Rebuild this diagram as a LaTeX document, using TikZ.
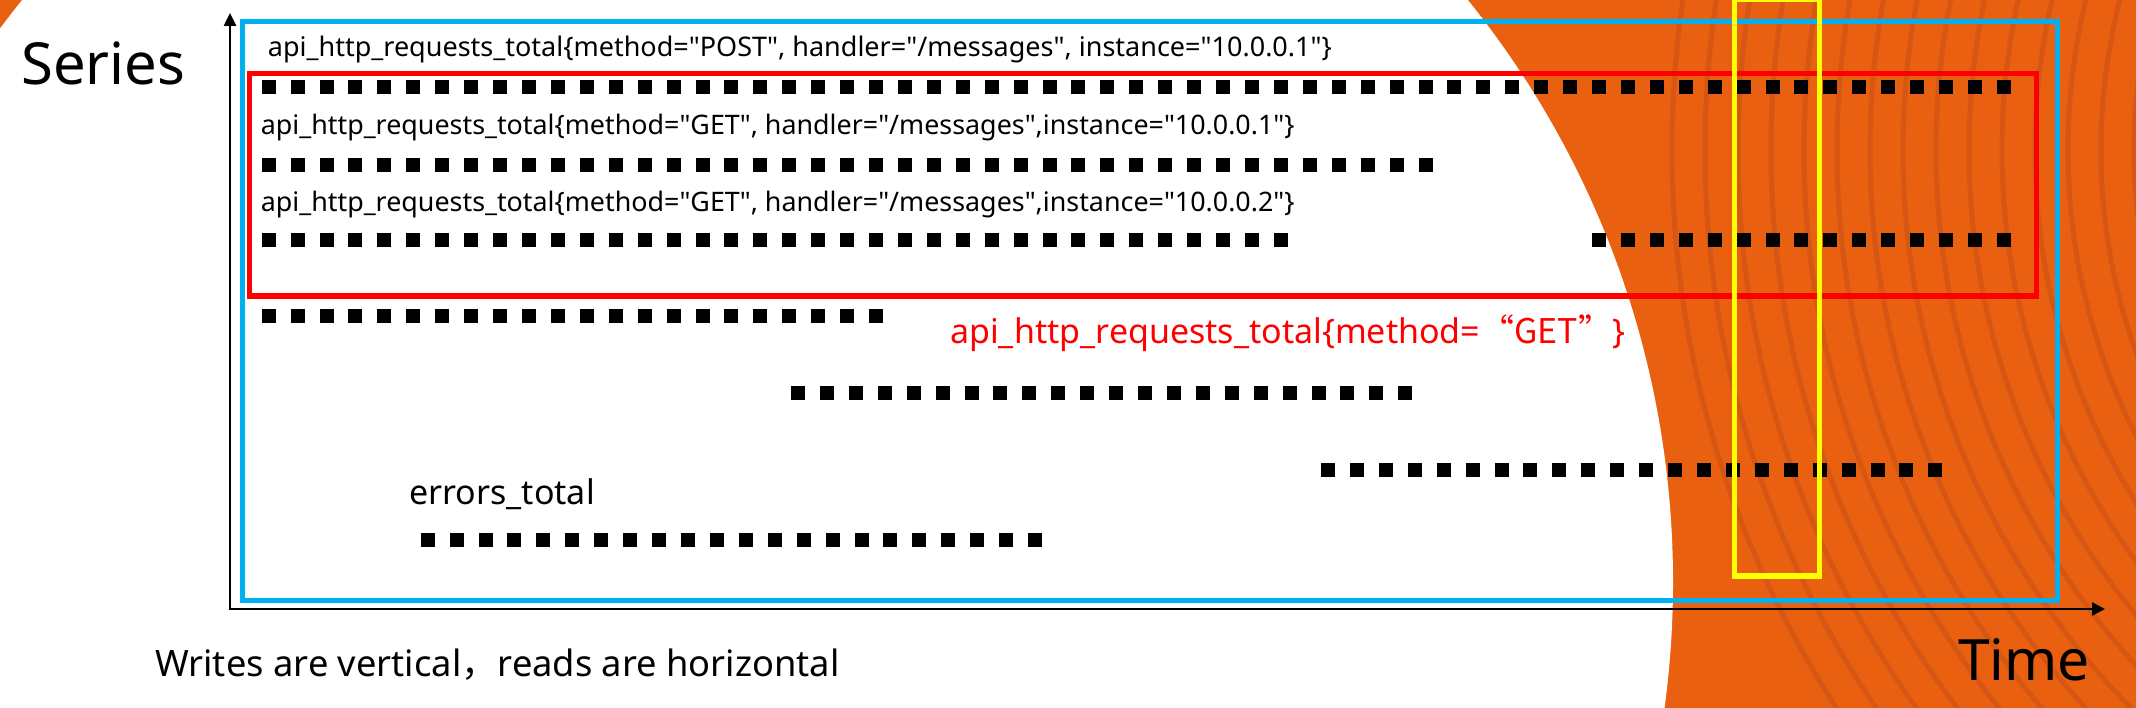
\documentclass[tikz,border=0pt]{standalone}
\usepackage{fontspec}
\setmainfont{Noto Sans}
\newfontfamily\plainsans{Noto Sans}
\newfontfamily\cjk{Noto Sans CJK SC}
\usetikzlibrary{arrows.meta}
\definecolor{bgorange}{RGB}{233,96,16}
\definecolor{stripeor}{RGB}{214,86,20}
\definecolor{frameblue}{RGB}{0,176,240}
\definecolor{framered}{RGB}{255,0,0}
\definecolor{frameyellow}{RGB}{255,255,0}
\newcommand{\setfs}[1]{\plainsans\fontsize{#1}{#1}\selectfont}
\newcommand{\dotrow}[3]{\foreach \i in {1,...,#3} \fill[black] ({#2+(\i-1)*28.92},#1) rectangle ++(14,14);}
\begin{document}
\begin{tikzpicture}[x=1pt,y=-1pt,
  lbl/.style={anchor=base west, inner sep=0pt},
  stripe/.style={draw=stripeor, line width=5pt},
  frame/.style={line width=5.5pt},
  axisline/.style={line width=2.5pt, black, {Triangle[length=13pt,width=12pt]}-{Triangle[length=13pt,width=13pt]}}]
\useasboundingbox (0,0) rectangle (2136,708);
\clip (0,0) rectangle (2136,708);
% background
\fill[bgorange] (0,0) rectangle (2136,708);
\foreach \r in {500,533,...,1050} \draw[stripe] (2700,150) circle (\r);
\fill[white] (745,582) circle (928);
% axes
\coordinate (ytip) at (230,13);
\coordinate (xtip) at (2105,609);
\draw[axisline] (ytip) |- (xtip);
% frames
\draw[frame, frameblue, line width=5pt] (242,21.5) rectangle (2057,600);
\draw[frame, framered] (249.5,73.3) rectangle (2036.7,296);
% dot rows
\dotrow{80.5}{261.7}{61}
\dotrow{158.3}{261.7}{41}
\dotrow{233.3}{261.7}{36}
\dotrow{233.3}{1592.0}{15}
\dotrow{309.5}{261.7}{22}
\dotrow{386}{791}{22}
\dotrow{462.7}{1321}{22}
\dotrow{533.3}{420.7}{22}
% yellow window
\draw[frame, frameyellow] (1734.5,-1) rectangle (1819.5,576);
% labels
\node[lbl, font=\setfs{27}] (post) at (267.7,56.7) {api\_http\_requests\_total\{method="POST", handler="/messages", instance="10.0.0.1"\}};
\node[lbl, font=\setfs{26.85}] (get1) at (260.7,135) {api\_http\_requests\_total\{method="GET", handler="/messages",instance="10.0.0.1"\}};
\node[lbl, font=\setfs{26.85}] (get2) at (260.7,211.7) {api\_http\_requests\_total\{method="GET", handler="/messages",instance="10.0.0.2"\}};
\node[lbl, font=\setfs{34}, text=framered] (sel) at (950,343.3) {api\_http\_requests\_total\{method={\cjk “GET”}\}};
\node[lbl, font=\setfs{34}] (err) at (409,504.3) {errors\_total};
\node[lbl, font=\setfs{58}] (series) at (21,85) {Series};
\node[lbl, font=\setfs{57}] (time) at (1958,680.7) {Time};
\node[lbl, font=\setfs{36.3}] (note) at (155,676.7) {Writes are vertical{\cjk ，}reads are horizontal};
\end{tikzpicture}
\end{document}
